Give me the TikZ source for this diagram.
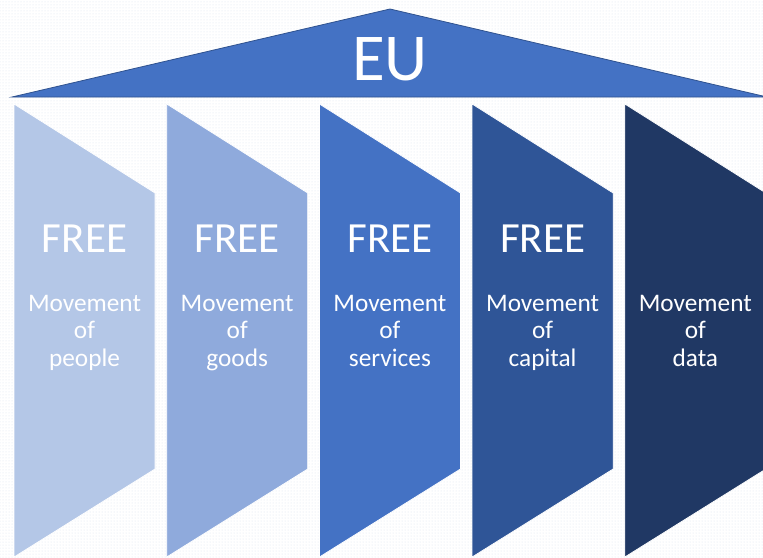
\documentclass[tikz,border=0pt]{standalone}
\usepackage{fontspec}
\setmainfont{Carlito}
\usetikzlibrary{calc,patterns}
\definecolor{pillarA}{HTML}{B4C7E7}
\definecolor{pillarB}{HTML}{8FAADC}
\definecolor{pillarC}{HTML}{4472C4}
\definecolor{pillarD}{HTML}{2F5597}
\definecolor{pillarE}{HTML}{203864}
\definecolor{roofline}{HTML}{2F528F}
\definecolor{dotgray}{HTML}{DCE3F0}
\tikzset{%
    roof/.style={fill=pillarC, draw=roofline, line width=0.8pt, line join=miter},
    pillar/.style={draw=white, line width=0.7pt},
    eu label/.style={text=white, inner sep=0pt, font=\fontsize{67}{67}\selectfont},
    free label/.style={text=white, inner sep=0pt, font=\fontsize{43}{43}\selectfont},
    move label/.style={text=white, inner sep=0pt, align=center,
        font=\fontsize{25.3}{27.5}\selectfont}%
}

\begin{document}
\begin{tikzpicture}[x=1pt,y=-1pt] % pixel-like units, y going down

    \def\pillarTop{104} % top of the pillars
    \def\pillarBot{557} % bottom of the pillars
    \def\pillarW{141} % pillar width
    \def\pillarGap{152.7} % distance between pillars

    \useasboundingbox (0,0) rectangle (763,557);
    \fill[white] (0,0) rectangle (763,557);
    \fill[pattern=dots, pattern color=dotgray] (0,0) rectangle (763,557);

    % the roof
    \coordinate (roofL) at (12,97);
    \coordinate (roofT) at (390,9);
    \coordinate (roofR) at (767,97);
    \draw[roof] (roofL) -- (roofT) -- (roofR) -- cycle;
    \node[eu label, anchor=base] (eu) at (390,80) {EU};

    % the pillars
    \foreach \i/\col/\free/\what in {0/pillarA/FREE/people, 1/pillarB/FREE/goods,
            2/pillarC/FREE/services, 3/pillarD/FREE/capital, 4/pillarE//data} {
        \pgfmathsetmacro\xl{14+\pillarGap*\i}
        \pgfmathsetmacro\xr{\xl+\pillarW}
        \pgfmathsetmacro\xc{\xl+\pillarW/2}
        \draw[pillar, fill=\col] (\xl,\pillarTop) -- (\xr,193) -- (\xr,469)
            -- (\xl,\pillarBot) -- cycle;
        \node[free label, anchor=base] (free\i) at (\xc,252) {\free};
        \node[move label] (move\i) at (\xc,333) {\strut Movement\\of\\\what\strut};
    }

\end{tikzpicture}
\end{document}
